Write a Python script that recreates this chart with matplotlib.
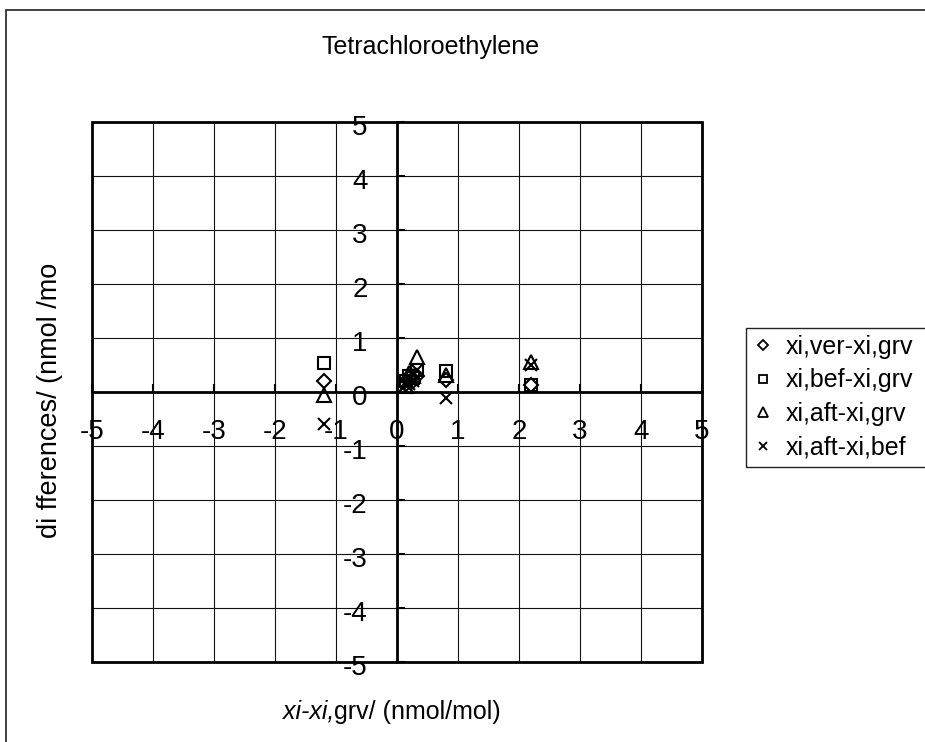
import matplotlib
matplotlib.use('Agg')
import matplotlib.pyplot as plt
from matplotlib.patches import Rectangle
from matplotlib.lines import Line2D
import matplotlib.transforms as mtransforms

# ---------------- data ----------------
x_vals = [-1.2, 0.15, 0.2, 0.26, 0.32, 0.8, 2.2]
ver_grv = [0.19, 0.15, 0.25, 0.20, 0.30, 0.22, 0.12]
bef_grv = [0.53, 0.20, 0.30, 0.25, 0.40, 0.38, 0.12]
aft_grv = [-0.06, 0.10, 0.35, 0.30, 0.65, 0.31, 0.55]
aft_bef = [-0.60, 0.12, 0.15, 0.20, 0.40, -0.12, 0.50]
series_labels = ["xi,ver-xi,grv", "xi,bef-xi,grv", "xi,aft-xi,grv", "xi,aft-xi,bef"]
x_ticks = [-5, -4, -3, -2, -1, 0, 1, 2, 3, 4, 5]
y_ticks = [-5, -4, -3, -2, -1, 0, 1, 2, 3, 4, 5]
title = "Tetrachloroethylene"
y_label = "di fferences/ (nmol /mo"
x_label_italic = "xi-xi,"
x_label_rest = "grv/ (nmol/mol)"

FONT = ['Liberation Sans', 'DejaVu Sans']
plt.rcParams['font.family'] = FONT

W, H = 925, 742
fig = plt.figure(figsize=(W / 100, H / 100), dpi=100)
fig.patch.set_facecolor('white')

# outer chart frame
fig.patches.append(Rectangle((6 / W, -0.05), 1.2, 1 - 10 / H + 0.05,
                             transform=fig.transFigure, fill=False,
                             edgecolor='#333333', lw=1.3))

left, right, top, bottom = 92, 702, 121.7, 661.7
ax = fig.add_axes([left / W, 1 - bottom / H, (right - left) / W, (bottom - top) / H])
ax.set_xlim(-5, 5)
ax.set_ylim(-5, 5)
ax.set_xticks(x_ticks)
ax.set_yticks(y_ticks)
ax.set_xticklabels([str(v) for v in x_ticks])
ax.set_yticklabels([str(v) for v in y_ticks])
ax.grid(True, color='#111111', lw=0.8)
ax.set_axisbelow(True)

for s in ['top', 'right']:
    ax.spines[s].set_visible(False)
ax.spines['left'].set_position('zero')
ax.spines['bottom'].set_position('zero')
ax.spines['left'].set_linewidth(2.0)
ax.spines['bottom'].set_linewidth(2.0)
ax.add_patch(Rectangle((0, 0), 1, 1, transform=ax.transAxes, fill=False,
                       edgecolor='black', lw=2.0, clip_on=False, zorder=5))

ax.tick_params(axis='x', direction='in', length=6, width=1.5, pad=20, labelsize=20)
ax.tick_params(axis='y', direction='in', length=6, width=1.5, pad=21, labelsize=20)
dy = mtransforms.ScaledTranslation(0, -3 / 100, fig.dpi_scale_trans)
for lab in ax.get_yticklabels():
    lab.set_transform(lab.get_transform() + dy)

series = [ver_grv, bef_grv, aft_grv, aft_bef]
markers = ['D', 's', '^', 'x']
sizes = [7, 9, 10, 9]
handles = []
for ys, m, ms, lab in zip(series, markers, sizes, series_labels):
    ax.plot(x_vals, ys, linestyle='none', marker=m, markersize=ms,
            markerfacecolor='none', markeredgecolor='black', markeredgewidth=1.5,
            zorder=6, clip_on=False)
    handles.append(Line2D([], [], linestyle='none', marker=m, markersize=ms * 0.7,
                          markerfacecolor='none', markeredgecolor='black',
                          markeredgewidth=1.3, label=lab))

# legend frame drawn manually so its right edge runs past the figure border
fig.patches.append(Rectangle((746 / W, 1 - 467 / H), 200 / W, (467 - 328) / H,
                             transform=fig.transFigure, fill=False,
                             edgecolor='#222222', lw=1.0))
leg = fig.legend(handles=handles, loc='upper left',
                 bbox_to_anchor=(748 / W, 1 - 330 / H),
                 frameon=False, prop={'family': FONT, 'size': 18},
                 handlelength=0.8, handletextpad=0.5, labelspacing=0.38,
                 borderpad=0.2, borderaxespad=0)

fig.text(431 / W, 1 - 47 / H, title, ha='center', va='center', fontsize=18)
fig.text(50 / W, 1 - 400 / H, y_label, ha='center', va='center',
         rotation=90, fontsize=19.5)

t1 = fig.text(283 / W, 1 - 712 / H, x_label_italic, ha='left', va='center',
              fontsize=18, style='italic')
ax.annotate(x_label_rest, xy=(1, 0.5), xycoords=t1, ha='left', va='center',
            fontsize=18, annotation_clip=False)

fig.savefig('out.png', dpi=100)
